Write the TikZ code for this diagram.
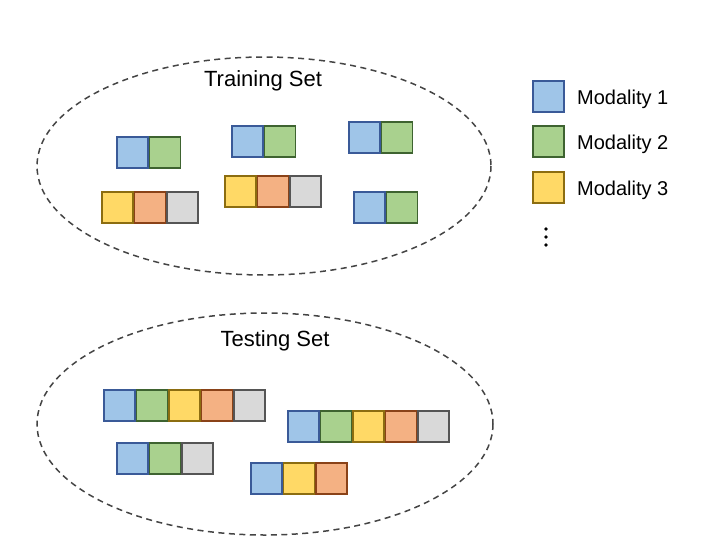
\documentclass[tikz,border=0pt]{standalone}
\usepackage{fontspec}
\setmainfont{Liberation Sans}
\definecolor{bfill}{HTML}{9FC5E8}\definecolor{bdraw}{HTML}{3A5A98}
\definecolor{gfill}{HTML}{A9D18E}\definecolor{gdraw}{HTML}{3E6330}
\definecolor{yfill}{HTML}{FFD966}\definecolor{ydraw}{HTML}{8C6D10}
\definecolor{ofill}{HTML}{F4B183}\definecolor{odraw}{HTML}{8A4218}
\definecolor{wfill}{HTML}{D9D9D9}\definecolor{wdraw}{HTML}{555555}
\definecolor{dashc}{HTML}{444444}
\tikzset{
  cell/.style={minimum size=31pt, inner sep=0pt, line width=1.6pt, anchor=north west},
  mb/.style={cell, fill=bfill, draw=bdraw},
  mg/.style={cell, fill=gfill, draw=gdraw},
  my/.style={cell, fill=yfill, draw=ydraw},
  mo/.style={cell, fill=ofill, draw=odraw},
  mw/.style={cell, fill=wfill, draw=wdraw},
  setline/.style={draw=dashc, line width=1.5pt, dash pattern=on 6pt off 4.5pt},
  lbl/.style={font=\fontsize{20}{24}\selectfont, inner sep=0pt},
  setlbl/.style={font=\fontsize{22}{26}\selectfont, inner sep=0pt},
}
\begin{document}
\begin{tikzpicture}[x=1pt,y=-1pt]
\useasboundingbox (0,0) rectangle (708,544);
% ellipses
\draw[setline] (264,166) ellipse [x radius=227, y radius=109];
\draw[setline] (265,424) ellipse [x radius=228, y radius=111];
\node[setlbl] (train) at (263,81) {Training Set};
\node[setlbl] (test) at (275,341) {Testing Set};
% training groups
\node[mb] (a1) at (116,136) {}; \node[mg] (a2) at (148.5,136) {};
\node[my] (b1) at (101,191) {}; \node[mo] (b2) at (133.5,191) {}; \node[mw] (b3) at (166,191) {};
\node[mb] (c1) at (231,125) {}; \node[mg] (c2) at (263.5,125) {};
\node[my] (d1) at (224,175) {}; \node[mo] (d2) at (256.5,175) {}; \node[mw] (d3) at (289,175) {};
\node[mb] (e1) at (348,121) {}; \node[mg] (e2) at (380.5,121) {};
\node[mb] (f1) at (353,191) {}; \node[mg] (f2) at (385.5,191) {};
% testing groups
\node[mb] (g1) at (103,389) {}; \node[mg] (g2) at (135.5,389) {}; \node[my] (g3) at (168,389) {}; \node[mo] (g4) at (200.5,389) {}; \node[mw] (g5) at (233,389) {};
\node[mb] (h1) at (116,442) {}; \node[mg] (h2) at (148.5,442) {}; \node[mw] (h3) at (181,442) {};
\node[mb] (i1) at (287,410) {}; \node[mg] (i2) at (319.5,410) {}; \node[my] (i3) at (352,410) {}; \node[mo] (i4) at (384.5,410) {}; \node[mw] (i5) at (417,410) {};
\node[mb] (j1) at (250,462) {}; \node[my] (j2) at (282.5,462) {}; \node[mo] (j3) at (315,462) {};
% legend
\node[mb] (l1) at (532,80) {};
\node[mg] (l2) at (532,125) {};
\node[my] (l3) at (532,171) {};
\node[lbl, anchor=west] (t1) at (577,99) {Modality 1};
\node[lbl, anchor=west] (t2) at (577,144) {Modality 2};
\node[lbl, anchor=west] (t3) at (577,190) {Modality 3};
\fill (546,229) circle (1.8pt) (546,237) circle (1.8pt) (546,245) circle (1.8pt);
\end{tikzpicture}
\end{document}
